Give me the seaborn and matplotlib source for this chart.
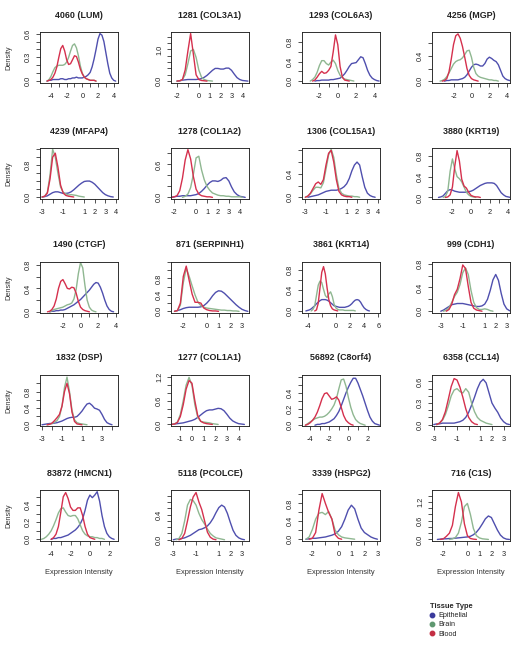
"""
Density of expression intensity per tissue type for 20 genes.
"""

import numpy as np
import pandas as pd
import matplotlib
matplotlib.use("Agg")
import matplotlib.pyplot as plt
from matplotlib.lines import Line2D
import seaborn as sns

STEP = 0.25  # spacing of the density readings along x
TISSUES = ["Epithelial", "Brain", "Blood"]
LINE_COLORS = {"Epithelial": "#4f4fae", "Brain": "#8fb791", "Blood": "#d5304d"}
DOT_COLORS = ["#3a3a9c", "#5f9870", "#c42f44"]

TITLES = ["4060 (LUM)", "1281 (COL3A1)", "1293 (COL6A3)", "4256 (MGP)",
          "4239 (MFAP4)", "1278 (COL1A2)", "1306 (COL15A1)", "3880 (KRT19)",
          "1490 (CTGF)", "871 (SERPINH1)", "3861 (KRT14)", "999 (CDH1)",
          "1832 (DSP)", "1277 (COL1A1)", "56892 (C8orf4)", "6358 (CCL14)",
          "83872 (HMCN1)", "5118 (PCOLCE)", "3339 (HSPG2)", "716 (C1S)"]

X_LIMS = [(-5.4, 4.55), (-2.55, 4.6), (-3.9, 4.6), (-4.4, 4.3),
          (-3.2, 4.2), (-2.3, 4.85), (-3.32, 4.22), (-4.2, 4.2),
          (-4.6, 4.25), (-3.05, 3.6), (-4.8, 6.25), (-3.8, 3.3),
          (-3.2, 4.6), (-1.8, 4.9), (-4.85, 3.3), (-3.15, 3.55),
          (-5.15, 2.9), (-3.2, 3.65), (-2.8, 3.2), (-2.95, 3.55)]
Y_LIMS = [(-0.024, 0.62), (-0.06, 1.55), (-0.04, 1.01), (-0.03, 0.78),
          (-0.05, 1.23), (-0.03, 0.9), (-0.03, 0.84), (-0.03, 0.95),
          (-0.02, 0.85), (-0.04, 1.18), (-0.04, 0.95), (-0.03, 0.83),
          (-0.03, 1.2), (-0.04, 1.26), (-0.01, 0.62), (-0.02, 0.69),
          (-0.02, 0.58), (-0.02, 0.79), (-0.04, 1.1), (-0.05, 1.58)]

# x ticks as (first, last, step) and the ones that carry a label
X_TICKS = [(-4, 4, 1), (-2, 4, 1), (-2, 4, 1), (-2, 4, 1),
           (-3, 4, 1), (-2, 4, 1), (-3, 4, 1), (-2, 4, 1),
           (-2, 4, 1), (-2, 3, 1), (-4, 6, 2), (-3, 3, 1),
           (-3, 4, 1), (-1, 4, 1), (-4, 2, 1), (-3, 3, 1),
           (-4, 2, 1), (-3, 3, 1), (-2, 3, 1), (-2, 3, 1)]
X_SHOWN = [[-4, -2, 0, 2, 4], [-2, 0, 1, 2, 3, 4], [-2, 0, 2, 4], [-2, 0, 2, 4],
           [-3, -1, 1, 2, 3, 4], [-2, 0, 1, 2, 3, 4], [-3, -1, 1, 2, 3, 4], [-2, 0, 2, 4],
           [-2, 0, 2, 4], [-2, 0, 1, 2, 3], [-4, 0, 2, 4, 6], [-3, -1, 1, 2, 3],
           [-3, -1, 1, 3], [-1, 0, 1, 2, 3, 4], [-4, -2, 0, 2], [-3, -1, 1, 2, 3],
           [-4, -2, 0, 2], [-3, -1, 1, 2, 3], [-2, 0, 1, 2, 3], [-2, 0, 1, 2, 3]]

# y ticks as (last, step) from 0 and the labelled ones
Y_TICKS = [(0.6, 0.1), (1.4, 0.2), (0.8, 0.2), (0.6, 0.2),
           (1.2, 0.2), (0.8, 0.2), (0.8, 0.2), (0.8, 0.2),
           (0.8, 0.2), (1.2, 0.2), (0.8, 0.2), (0.8, 0.2),
           (1.0, 0.2), (1.2, 0.2), (0.6, 0.1), (0.6, 0.1),
           (0.5, 0.1), (0.7, 0.1), (1.0, 0.2), (1.4, 0.2)]
Y_SHOWN = [[0.0, 0.3, 0.6], [0.0, 1.0], [0.0, 0.4, 0.8], [0.0, 0.4],
           [0.0, 0.8], [0.0, 0.6], [0.0, 0.4], [0.0, 0.4, 0.8],
           [0.0, 0.4, 0.8], [0.0, 0.4, 0.8], [0.0, 0.4, 0.8], [0.0, 0.4, 0.8],
           [0.0, 0.4, 0.8], [0.0, 0.6, 1.2], [0.0, 0.2, 0.4], [0.0, 0.3, 0.6],
           [0.0, 0.2, 0.4], [0.0, 0.4], [0.0, 0.4, 0.8], [0.0, 0.6, 1.2]]

# density readings, one value every STEP starting at the given x
EPI_START = [-4.5, -2.0, -2.5, -3.0, -3.0, -2.25, -2.75, -3.5, -3.5, -2.75,
             -4.25, -3.0, -3.0, -1.75, -3.5, -3.0, -4.0, -3.0, -2.5, -2.5]
EPI = [
    [0.0, 0.01, 0.01, 0.02, 0.02, 0.02, 0.02, 0.03, 0.03, 0.02, 0.02, 0.03, 0.03, 0.04, 0.04, 0.05, 0.04, 0.04,
     0.04, 0.05, 0.06, 0.08, 0.11, 0.18, 0.28, 0.40, 0.53, 0.60, 0.58, 0.50, 0.36, 0.22, 0.10, 0.04, 0.01, 0.0],
    [0.0, 0.01, 0.03, 0.04, 0.05, 0.05, 0.05, 0.05, 0.06, 0.08, 0.12, 0.18, 0.26, 0.34, 0.40, 0.40, 0.38, 0.38,
     0.41, 0.41, 0.34, 0.22, 0.11, 0.05, 0.02, 0.01, 0.0],
    [0.0, 0.01, 0.01, 0.02, 0.02, 0.02, 0.02, 0.03, 0.03, 0.04, 0.05, 0.06, 0.1, 0.15, 0.22, 0.3, 0.36, 0.37,
     0.38, 0.44, 0.5, 0.48, 0.36, 0.22, 0.12, 0.06, 0.03, 0.01, 0.0],
    [0.0, 0.01, 0.01, 0.02, 0.02, 0.02, 0.02, 0.03, 0.04, 0.06, 0.1, 0.16, 0.22, 0.26, 0.27, 0.26, 0.24, 0.24,
     0.28, 0.35, 0.38, 0.36, 0.33, 0.31, 0.26, 0.17, 0.08, 0.04, 0.02, 0.01, 0.0],
    [0.0, 0.01, 0.03, 0.07, 0.11, 0.13, 0.13, 0.11, 0.09, 0.09, 0.1, 0.13, 0.18, 0.24, 0.3, 0.35, 0.39, 0.4,
     0.4, 0.37, 0.32, 0.25, 0.18, 0.11, 0.06, 0.03, 0.01, 0.0],
    [0.0, 0.01, 0.02, 0.02, 0.03, 0.03, 0.03, 0.03, 0.04, 0.05, 0.07, 0.11, 0.16, 0.22, 0.27, 0.3, 0.3, 0.29,
     0.31, 0.35, 0.36, 0.3, 0.19, 0.1, 0.05, 0.02, 0.01, 0.0],
    [0.0, 0.01, 0.02, 0.03, 0.04, 0.06, 0.08, 0.1, 0.11, 0.12, 0.12, 0.12, 0.13, 0.15, 0.18, 0.23, 0.32, 0.45,
     0.55, 0.6, 0.55, 0.35, 0.17, 0.07, 0.03, 0.01, 0.0],
    [0.0, 0.01, 0.03, 0.08, 0.13, 0.15, 0.14, 0.12, 0.11, 0.1, 0.1, 0.1, 0.1, 0.11, 0.12, 0.14, 0.17, 0.2,
     0.23, 0.25, 0.27, 0.28, 0.28, 0.28, 0.27, 0.23, 0.16, 0.09, 0.05, 0.02, 0.01, 0.0],
    [0.0, 0.01, 0.01, 0.02, 0.02, 0.03, 0.03, 0.04, 0.06, 0.08, 0.1, 0.12, 0.15, 0.18, 0.21, 0.25, 0.29, 0.33,
     0.37, 0.42, 0.47, 0.5, 0.49, 0.42, 0.32, 0.2, 0.1, 0.04, 0.01, 0.0],
    [0.0, 0.02, 0.04, 0.07, 0.09, 0.1, 0.1, 0.1, 0.1, 0.11, 0.14, 0.2, 0.28, 0.38, 0.46, 0.5, 0.49, 0.44,
     0.37, 0.3, 0.23, 0.16, 0.1, 0.05, 0.02, 0.0],
    [0.0, 0.01, 0.02, 0.04, 0.07, 0.1, 0.14, 0.17, 0.2, 0.22, 0.22, 0.22, 0.21, 0.19, 0.16, 0.13, 0.1, 0.09,
     0.08, 0.07, 0.07, 0.07, 0.07, 0.08, 0.09, 0.11, 0.14, 0.18, 0.21, 0.22, 0.21, 0.17, 0.11, 0.06, 0.03,
     0.01, 0.0],
    [0.0, 0.02, 0.05, 0.08, 0.11, 0.12, 0.13, 0.13, 0.13, 0.12, 0.11, 0.1, 0.09, 0.08, 0.08, 0.09, 0.12, 0.2,
     0.35, 0.53, 0.62, 0.52, 0.3, 0.12, 0.04, 0.01, 0.0],
    [0.0, 0.01, 0.02, 0.03, 0.03, 0.04, 0.05, 0.07, 0.09, 0.12, 0.15, 0.17, 0.18, 0.18, 0.2, 0.26, 0.33, 0.42,
     0.5, 0.52, 0.47, 0.4, 0.38, 0.35, 0.25, 0.13, 0.05, 0.02, 0.0],
    [0.0, 0.01, 0.02, 0.03, 0.04, 0.06, 0.08, 0.1, 0.13, 0.18, 0.24, 0.3, 0.35, 0.37, 0.37, 0.39, 0.41, 0.4,
     0.35, 0.26, 0.16, 0.09, 0.05, 0.02, 0.01, 0.0],
    [0.0, 0.01, 0.01, 0.02, 0.02, 0.03, 0.04, 0.06, 0.08, 0.12, 0.17, 0.24, 0.32, 0.4, 0.47, 0.53, 0.58, 0.58,
     0.52, 0.44, 0.36, 0.27, 0.18, 0.1, 0.05, 0.02, 0.01, 0.0],
    [0.0, 0.01, 0.01, 0.02, 0.02, 0.02, 0.02, 0.02, 0.03, 0.04, 0.06, 0.1, 0.17, 0.27, 0.38, 0.5, 0.59, 0.63,
     0.58, 0.44, 0.3, 0.23, 0.17, 0.09, 0.04, 0.01, 0.0],
    [0.0, 0.01, 0.01, 0.02, 0.02, 0.03, 0.04, 0.05, 0.07, 0.09, 0.11, 0.14, 0.18, 0.24, 0.34, 0.46, 0.52, 0.49,
     0.52, 0.56, 0.45, 0.28, 0.15, 0.07, 0.03, 0.01, 0.0],
    [0.0, 0.01, 0.01, 0.02, 0.03, 0.05, 0.07, 0.1, 0.13, 0.16, 0.17, 0.19, 0.22, 0.27, 0.34, 0.43, 0.51, 0.55,
     0.52, 0.42, 0.28, 0.15, 0.07, 0.03, 0.01, 0.0],
    [0.0, 0.01, 0.02, 0.02, 0.03, 0.04, 0.05, 0.07, 0.09, 0.12, 0.18, 0.28, 0.45, 0.65, 0.76, 0.68, 0.45, 0.25,
     0.15, 0.1, 0.05, 0.02, 0.0],
    [0.0, 0.01, 0.02, 0.02, 0.03, 0.03, 0.04, 0.05, 0.06, 0.07, 0.08, 0.1, 0.15, 0.23, 0.35, 0.5, 0.66, 0.75,
     0.7, 0.5, 0.3, 0.14, 0.05, 0.01, 0.0],
]

BRAIN_START = [-4.5, -2.0, -3.0, -3.5, -3.0, -1.25, -3.0, -3.0, -3.5, -2.75,
               -3.5, -2.75, -2.5, -1.75, -4.5, -2.75, -5.0, -2.75, -2.5, -1.5]
BRAIN = [
    [0.0, 0.02, 0.06, 0.12, 0.17, 0.19, 0.2, 0.2, 0.2, 0.21, 0.24, 0.3, 0.38, 0.45, 0.47, 0.42, 0.32, 0.19,
     0.1, 0.05, 0.03, 0.02, 0.01, 0.01, 0.01, 0.0],
    [0.0, 0.01, 0.05, 0.2, 0.55, 0.95, 1.0, 0.75, 0.35, 0.12, 0.05, 0.02, 0.01, 0.0],
    [0.0, 0.03, 0.08, 0.18, 0.32, 0.42, 0.42, 0.36, 0.33, 0.39, 0.43, 0.36, 0.22, 0.12, 0.07, 0.04, 0.03, 0.02,
     0.01, 0.0],
    [0.0, 0.01, 0.03, 0.07, 0.13, 0.2, 0.27, 0.31, 0.33, 0.34, 0.37, 0.42, 0.48, 0.49, 0.38, 0.22, 0.12, 0.08,
     0.06, 0.05, 0.04, 0.03, 0.02, 0.02, 0.01, 0.01, 0.0],
    [0.0, 0.02, 0.12, 0.55, 1.2, 1.0, 0.6, 0.25, 0.12, 0.08, 0.05, 0.06, 0.05, 0.04, 0.02, 0.01, 0.0],
    [0.0, 0.02, 0.06, 0.18, 0.42, 0.72, 0.75, 0.5, 0.32, 0.2, 0.13, 0.08, 0.06, 0.04, 0.03, 0.03, 0.02, 0.02,
     0.01, 0.01, 0.01, 0.01, 0.0],
    [0.0, 0.02, 0.06, 0.12, 0.17, 0.17, 0.16, 0.25, 0.48, 0.72, 0.82, 0.68, 0.38, 0.15, 0.07, 0.04, 0.03, 0.02,
     0.02, 0.01, 0.01, 0.0],
    [0.0, 0.02, 0.12, 0.5, 0.74, 0.55, 0.4, 0.36, 0.3, 0.2, 0.1, 0.05, 0.02, 0.01, 0.0],
    [0.0, 0.02, 0.04, 0.05, 0.06, 0.07, 0.08, 0.1, 0.12, 0.13, 0.15, 0.22, 0.38, 0.65, 0.84, 0.75, 0.45, 0.2,
     0.08, 0.03, 0.01, 0.0],
    [0.0, 0.02, 0.15, 0.7, 1.05, 0.85, 0.62, 0.4, 0.22, 0.14, 0.1, 0.08, 0.07, 0.06, 0.05, 0.04, 0.03, 0.03,
     0.02, 0.02, 0.01, 0.01, 0.0],
    [0.0, 0.03, 0.1, 0.3, 0.5, 0.58, 0.55, 0.42, 0.3, 0.26, 0.33, 0.37, 0.28, 0.13, 0.06, 0.03, 0.02, 0.02,
     0.02, 0.01, 0.01, 0.01, 0.01, 0.01, 0.01, 0.0],
    [0.0, 0.02, 0.06, 0.15, 0.25, 0.32, 0.45, 0.65, 0.73, 0.62, 0.35, 0.15, 0.06, 0.03, 0.03, 0.04, 0.03, 0.01,
     0.0],
    [0.0, 0.01, 0.03, 0.06, 0.1, 0.2, 0.45, 0.9, 1.15, 0.8, 0.35, 0.12, 0.05, 0.03, 0.02, 0.01, 0.0],
    [0.0, 0.01, 0.06, 0.25, 0.6, 1.0, 1.2, 1.0, 0.5, 0.18, 0.08, 0.06, 0.05, 0.04, 0.02, 0.01, 0.0],
    [0.0, 0.02, 0.04, 0.06, 0.08, 0.09, 0.1, 0.1, 0.11, 0.13, 0.16, 0.2, 0.25, 0.33, 0.45, 0.56, 0.57, 0.48,
     0.34, 0.22, 0.13, 0.07, 0.04, 0.02, 0.01, 0.0],
    [0.0, 0.02, 0.06, 0.14, 0.26, 0.4, 0.48, 0.5, 0.46, 0.44, 0.5, 0.45, 0.3, 0.18, 0.1, 0.06, 0.04, 0.02,
     0.01, 0.0],
    [0.0, 0.01, 0.03, 0.06, 0.1, 0.16, 0.23, 0.31, 0.36, 0.37, 0.32, 0.28, 0.27, 0.28, 0.28, 0.24, 0.17, 0.1,
     0.06, 0.04, 0.03, 0.03, 0.02, 0.02, 0.01, 0.01, 0.0],
    [0.0, 0.02, 0.1, 0.3, 0.55, 0.64, 0.62, 0.55, 0.42, 0.32, 0.25, 0.17, 0.1, 0.06, 0.03, 0.02, 0.01, 0.0],
    [0.0, 0.05, 0.22, 0.45, 0.58, 0.6, 0.55, 0.62, 0.45, 0.2, 0.1, 0.05, 0.03, 0.02, 0.01, 0.0],
    [0.0, 0.02, 0.06, 0.2, 0.55, 1.05, 1.15, 0.8, 0.35, 0.12, 0.05, 0.02, 0.01, 0.0],
]

BLOOD_START = [-4.5, -2.0, -2.75, -3.25, -3.0, -2.25, -3.0, -2.75, -3.75, -2.75,
               -3.0, -2.5, -2.5, -1.75, -4.5, -2.75, -4.0, -2.5, -2.25, -2.25]
BLOOD = [
    [0.0, 0.01, 0.02, 0.05, 0.1, 0.18, 0.3, 0.41, 0.45, 0.38, 0.27, 0.21, 0.22, 0.27, 0.32, 0.31, 0.24, 0.15,
     0.09, 0.05, 0.03, 0.02, 0.01, 0.01, 0.01, 0.0],
    [0.0, 0.01, 0.05, 0.35, 0.95, 1.5, 0.85, 0.2, 0.05, 0.02, 0.01, 0.0],
    [0.0, 0.02, 0.08, 0.15, 0.2, 0.16, 0.17, 0.22, 0.3, 0.6, 0.95, 0.75, 0.3, 0.08, 0.02, 0.01, 0.0],
    [0.0, 0.01, 0.04, 0.15, 0.35, 0.58, 0.72, 0.75, 0.68, 0.55, 0.38, 0.2, 0.09, 0.04, 0.02, 0.01, 0.0],
    [0.0, 0.02, 0.1, 0.45, 1.0, 1.1, 0.75, 0.3, 0.1, 0.04, 0.02, 0.01, 0.0],
    [0.0, 0.01, 0.03, 0.12, 0.35, 0.68, 0.87, 0.7, 0.38, 0.15, 0.06, 0.03, 0.02, 0.01, 0.01, 0.0],
    [0.0, 0.02, 0.07, 0.15, 0.23, 0.26, 0.22, 0.3, 0.55, 0.75, 0.8, 0.6, 0.3, 0.1, 0.04, 0.02, 0.01, 0.01,
     0.0],
    [0.0, 0.01, 0.05, 0.2, 0.6, 0.9, 0.7, 0.35, 0.22, 0.18, 0.1, 0.04, 0.02, 0.01, 0.01, 0.0],
    [0.0, 0.01, 0.04, 0.1, 0.22, 0.4, 0.52, 0.55, 0.48, 0.4, 0.39, 0.42, 0.41, 0.32, 0.18, 0.08, 0.04, 0.02,
     0.01, 0.0],
    [0.0, 0.02, 0.2, 0.85, 1.1, 0.75, 0.42, 0.22, 0.22, 0.2, 0.08, 0.04, 0.02, 0.01, 0.01, 0.0],
    [0.0, 0.02, 0.15, 0.45, 0.75, 0.86, 0.72, 0.45, 0.22, 0.1, 0.04, 0.02, 0.01, 0.0],
    [0.0, 0.03, 0.12, 0.28, 0.37, 0.55, 0.78, 0.72, 0.42, 0.15, 0.05, 0.02, 0.01, 0.0],
    [0.0, 0.01, 0.04, 0.1, 0.17, 0.25, 0.45, 0.8, 1.0, 0.75, 0.3, 0.08, 0.02, 0.01, 0.0],
    [0.0, 0.01, 0.05, 0.2, 0.5, 0.9, 1.12, 1.05, 0.6, 0.22, 0.08, 0.04, 0.02, 0.01, 0.0],
    [0.0, 0.01, 0.03, 0.06, 0.1, 0.16, 0.24, 0.33, 0.39, 0.4, 0.36, 0.32, 0.33, 0.35, 0.31, 0.22, 0.12, 0.06,
     0.03, 0.01, 0.0],
    [0.0, 0.02, 0.07, 0.18, 0.35, 0.53, 0.64, 0.62, 0.52, 0.38, 0.22, 0.1, 0.04, 0.01, 0.0],
    [0.0, 0.02, 0.06, 0.15, 0.32, 0.5, 0.55, 0.48, 0.38, 0.34, 0.34, 0.37, 0.37, 0.28, 0.15, 0.06, 0.02, 0.01,
     0.0],
    [0.0, 0.02, 0.1, 0.3, 0.52, 0.68, 0.75, 0.6, 0.48, 0.3, 0.12, 0.04, 0.01, 0.0],
    [0.0, 0.02, 0.15, 0.65, 1.02, 0.8, 0.6, 0.45, 0.1, 0.02, 0.0],
    [0.0, 0.02, 0.1, 0.2, 0.45, 1.05, 1.5, 1.2, 0.5, 0.12, 0.03, 0.01, 0.0],
]

# layout in pixels of the 522x650 figure
FIG_W, FIG_H = 522, 650
COL_LEFT = [40, 171, 302, 432]
ROW_TOP = [32, 148, 262, 375, 490]
BOX_W, BOX_H = 78, 51


def panel_frame(i: int) -> pd.DataFrame:
    """Long table of the three density curves of one panel."""
    parts = []
    for tissue, starts, dens in [("Epithelial", EPI_START, EPI),
                                 ("Brain", BRAIN_START, BRAIN),
                                 ("Blood", BLOOD_START, BLOOD)]:
        y = np.array(dens[i])
        x = starts[i] + STEP * np.arange(len(y))
        parts.append(pd.DataFrame({"x": x, "density": y, "tissue": tissue}))
    return pd.concat(parts, ignore_index=True)


def draw_panel(fig, i: int):
    row, col = divmod(i, 4)
    left, top = COL_LEFT[col], ROW_TOP[row]
    ax = fig.add_axes([left / FIG_W, 1 - (top + BOX_H) / FIG_H, BOX_W / FIG_W, BOX_H / FIG_H])

    df = panel_frame(i)
    sns.lineplot(data=df, x="x", y="density", hue="tissue", hue_order=TISSUES,
                 palette=LINE_COLORS, estimator=None, errorbar=None, sort=True,
                 linewidth=1.0, legend=False, ax=ax)

    ax.set_xlim(*X_LIMS[i])
    ax.set_ylim(*Y_LIMS[i])

    first, last, step = X_TICKS[i]
    xt = np.arange(first, last + step / 2, step)
    ax.set_xticks(xt)
    ax.set_xticklabels([str(int(v)) if v in X_SHOWN[i] else "" for v in xt])

    ymax, ystep = Y_TICKS[i]
    yt = np.round(np.arange(0, ymax + ystep / 2, ystep), 2)
    ax.set_yticks(yt)
    shown = [round(v, 2) for v in Y_SHOWN[i]]
    ax.set_yticklabels([f"{v:.1f}" if round(v, 2) in shown else "" for v in yt],
                       rotation=90, va="center")

    ax.set_xlabel("")
    ax.set_ylabel("")
    ax.tick_params(direction="out", length=2.9, width=0.55, labelsize=5.3,
                   colors="#222222")
    ax.tick_params(axis="x", pad=4.2)
    ax.tick_params(axis="y", pad=2.8)
    for sp in ax.spines.values():
        sp.set_linewidth(0.65)
        sp.set_color("#222222")
        sp.set_visible(True)

    ax.text(0.5, 1 + 17 / BOX_H, TITLES[i], transform=ax.transAxes,
            ha="center", va="center", fontsize=6.4, fontweight="bold", color="#222222")
    if col == 0:
        fig.text(9 / FIG_W, 1 - (top + BOX_H / 2) / FIG_H, "Density", rotation=90,
                 ha="center", va="center", fontsize=5.3, color="#333333")
    if row == 4:
        fig.text((left + BOX_W / 2) / FIG_W, 1 - 573 / FIG_H, "Expression Intensity",
                 ha="center", va="center", fontsize=5.4, color="#333333")


def main():
    sns.set_style("ticks")
    plt.rcParams["font.family"] = ["Liberation Sans", "DejaVu Sans"]

    fig = plt.figure(figsize=(FIG_W / 100, FIG_H / 100), dpi=100)
    fig.patch.set_facecolor("white")

    for i in range(len(TITLES)):
        draw_panel(fig, i)

    handles = [Line2D([0], [0], marker="o", linestyle="", markersize=3.2,
                      markerfacecolor=c, markeredgecolor=c) for c in DOT_COLORS]
    fig.legend(handles, TISSUES, loc="upper left",
               bbox_to_anchor=(425 / FIG_W, 1 - 598 / FIG_H), frameon=False,
               title="Tissue Type", fontsize=5.2, alignment="left",
               title_fontproperties={"weight": "bold", "size": 5.4},
               handlelength=0.6, handletextpad=0.5, labelspacing=0.3,
               borderpad=0.2)

    fig.savefig("out.png", dpi=100, facecolor="white")
    plt.close(fig)


if __name__ == "__main__":
    main()
